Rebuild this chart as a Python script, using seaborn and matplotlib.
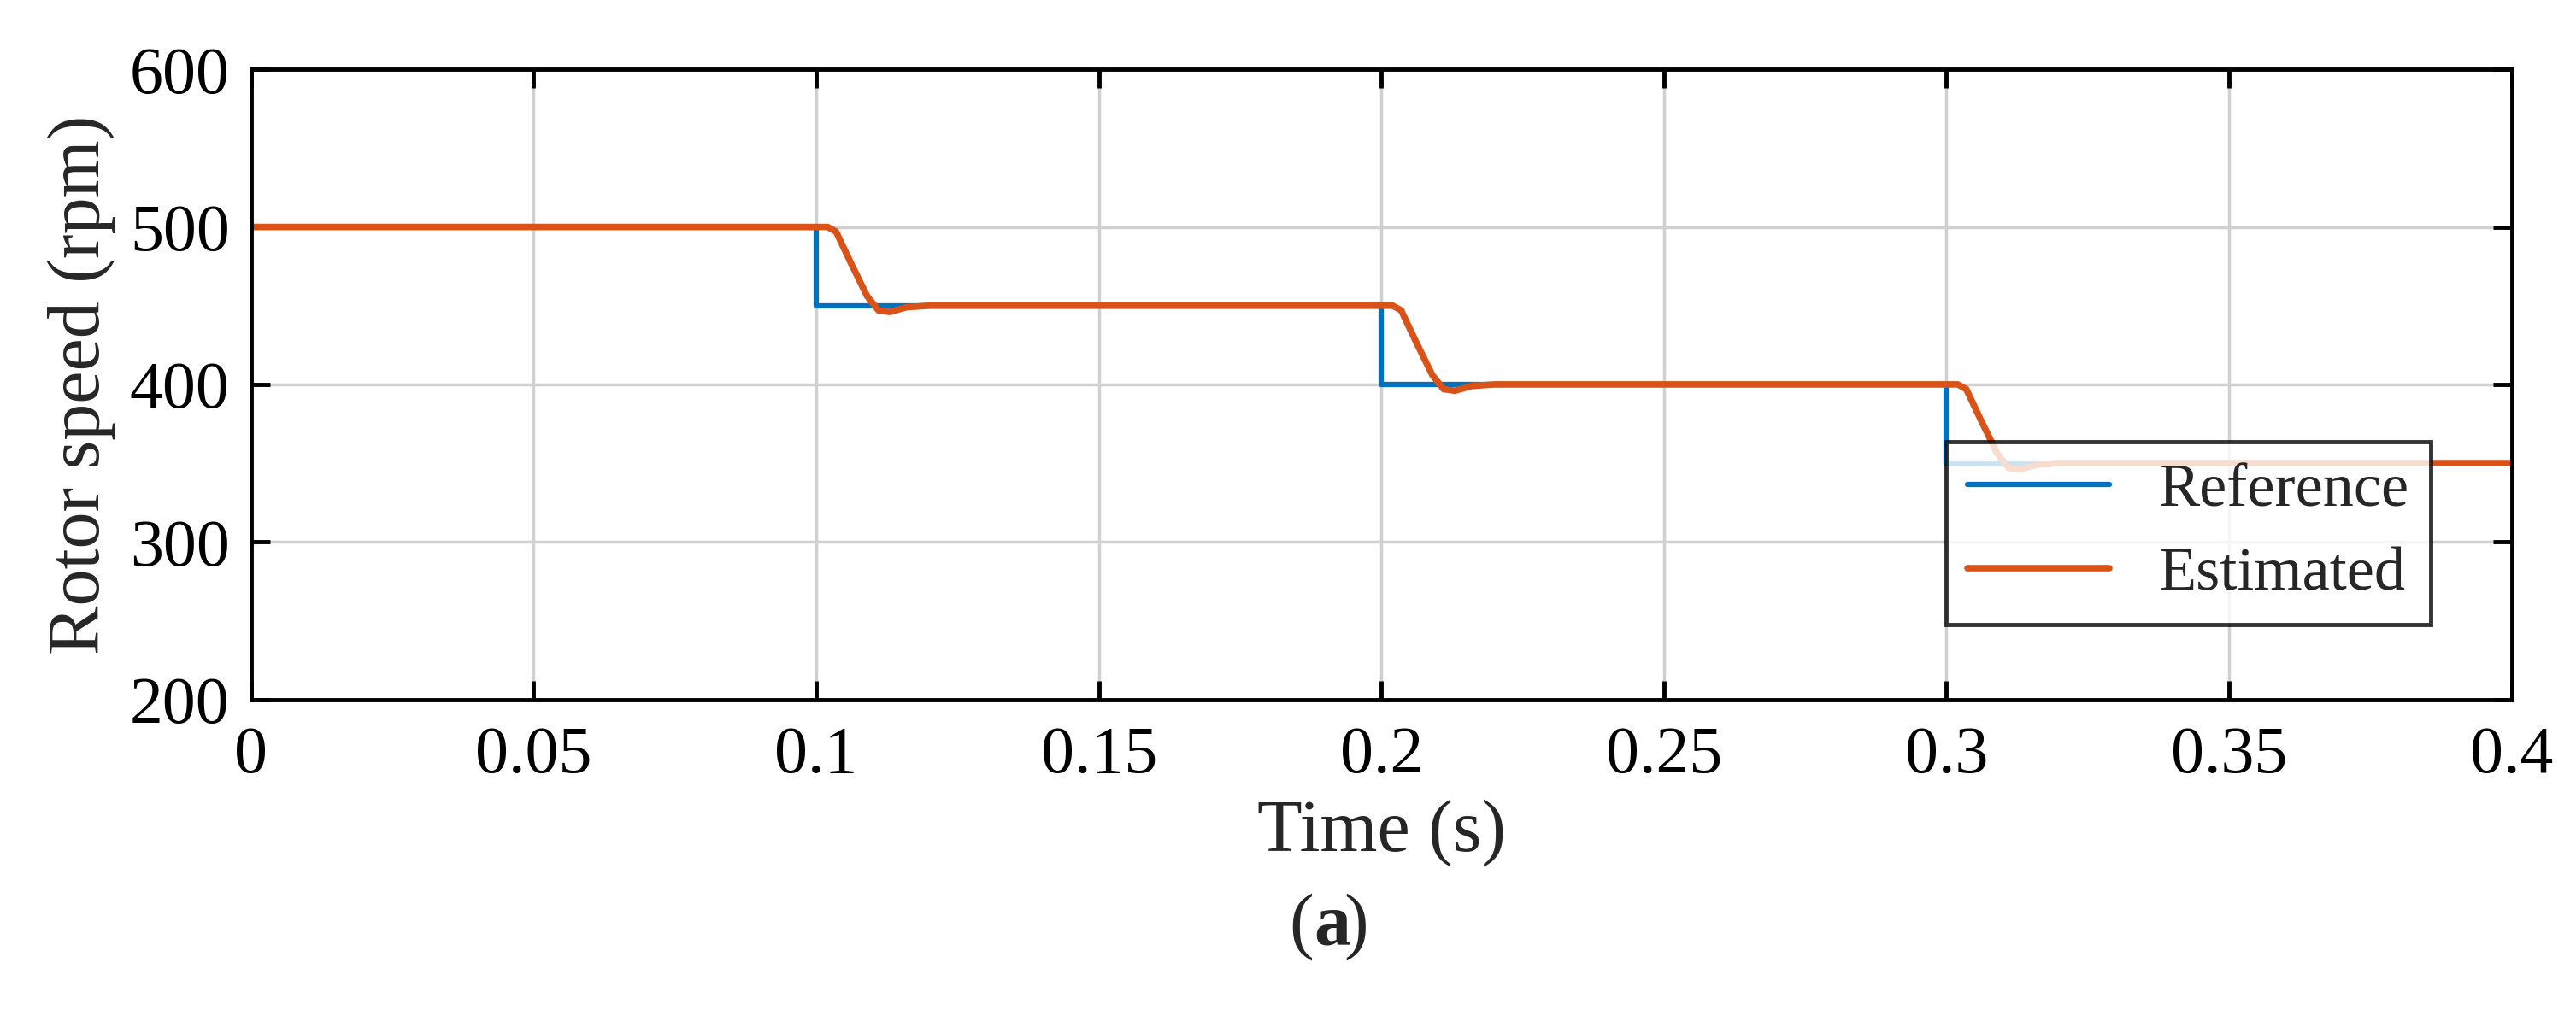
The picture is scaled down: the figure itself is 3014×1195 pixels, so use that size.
import matplotlib
matplotlib.use("Agg")
import matplotlib.pyplot as plt
import seaborn as sns

sns.set_theme(style="white")
plt.rcParams['font.family'] = ['Liberation Serif', 'DejaVu Serif']

ref_t = [0, 0.1, 0.1, 0.2, 0.2, 0.3, 0.3, 0.4]
ref_v = [500, 500, 450, 450, 400, 400, 350, 350]

est_t = [0, 0.102, 0.1035, 0.106, 0.109, 0.111, 0.113, 0.116, 0.12,
         0.2, 0.202, 0.2035, 0.206, 0.209, 0.211, 0.213, 0.216, 0.22,
         0.3, 0.302, 0.3035, 0.306, 0.309, 0.311, 0.313, 0.316, 0.32, 0.4]
est_v = [500, 500, 497, 478, 456, 447, 446, 449, 450,
         450, 450, 447, 428, 406, 397, 396, 399, 400,
         400, 400, 397, 378, 356, 347, 346, 349, 350, 350]

fig = plt.figure(figsize=(30.14, 11.95), dpi=100)
ax = fig.add_axes([0.0975, 0.315, 0.8775, 0.617])

sns.lineplot(x=ref_t, y=ref_v, ax=ax, color='#0072BD', lw=4.5, label='Reference', sort=False, estimator=None)
sns.lineplot(x=est_t, y=est_v, ax=ax, color='#D95319', lw=5.5, label='Estimated', sort=False, estimator=None)

ax.set_xlim(0, 0.4)
ax.set_ylim(200, 600)
ax.set_xticks([0, 0.05, 0.1, 0.15, 0.2, 0.25, 0.3, 0.35, 0.4])
ax.set_xticklabels(['0', '0.05', '0.1', '0.15', '0.2', '0.25', '0.3', '0.35', '0.4'])
ax.set_yticks([200, 300, 400, 500, 600])
ax.grid(True, color='#d0d0d0', lw=2.5)
for s in ax.spines.values():
    s.set_color('black'); s.set_linewidth(3.5)
ax.tick_params(axis='both', labelsize=56, direction='in', length=16, width=3.5, colors='black',
               top=True, right=True, bottom=True, left=True)
ax.tick_params(axis='x', pad=22)
ax.tick_params(axis='y', pad=18)
ax.set_xlabel('Time (s)', fontsize=62, labelpad=10)
ax.set_ylabel('Rotor speed (rpm)', fontsize=62, labelpad=12)
leg = ax.legend(loc='lower right', bbox_to_anchor=(0.978, 0.07), fontsize=52, frameon=True,
                fancybox=False, handlelength=2.3, borderpad=0.35, labelspacing=0.45, handletextpad=0.8)
leg.get_frame().set_edgecolor('black'); leg.get_frame().set_linewidth(3.5)
fig.text(0.51, 0.075, '(', ha='right', fontsize=62)
fig.text(0.51, 0.075, 'a', ha='left', fontsize=62, fontweight='bold')
fig.text(0.5215, 0.075, ')', ha='left', fontsize=62)
fig.savefig('out.png', dpi=100)
